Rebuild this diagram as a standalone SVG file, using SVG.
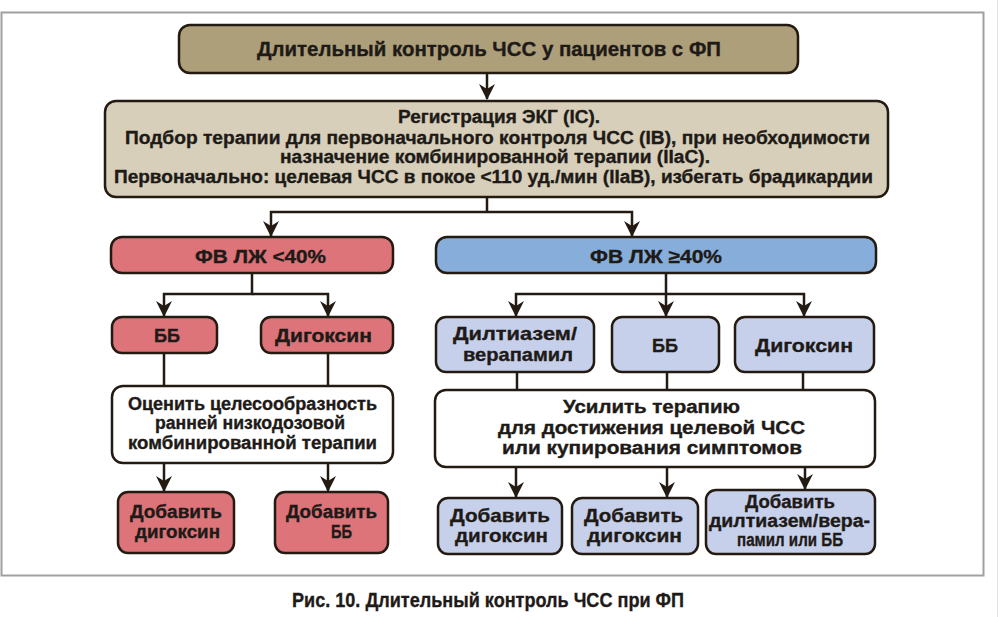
<svg xmlns="http://www.w3.org/2000/svg" width="1000" height="617" viewBox="0 0 1000 617">
<defs>
<style>
.box{stroke:#231a12;stroke-width:2.5}
.t{font-family:"Liberation Sans",Arial,sans-serif;font-weight:bold;fill:#1e1a17;stroke:#1e1a17;stroke-width:0.35;font-size:18px}
.h{font-size:19px}
.ti{font-size:20px}
.cap{font-size:21px}
.c{fill:none;stroke:#231a12;stroke-width:2.5}
.tan{fill:#ae9f7b}
.beige{fill:#d7cfb9}
.red{fill:#dc7479}
.blue{fill:#87aedb}
.lblue{fill:#c7d0ea}
.white{fill:#ffffff}
</style>
<marker id="ah" viewBox="0 0 16 16" refX="15" refY="8" markerWidth="16" markerHeight="16" markerUnits="userSpaceOnUse" orient="auto">
<path d="M0,0 L16,8 L0,16 L5,8 z" fill="#231a12"/>
</marker>
</defs>
<rect x="0" y="0" width="1000" height="617" fill="#ffffff"/>
<rect x="1.5" y="12.5" width="982" height="563" fill="none" stroke="#a0a0a0" stroke-width="2"/>
<line x1="997.5" y1="0" x2="997.5" y2="617" stroke="#e2e2e2" stroke-width="1"/>

<g id="connectors">
<path class="c" d="M487,73 V99" marker-end="url(#ah)"/>
<path class="c" d="M487,197 V212"/>
<path class="c" d="M487,212 H271 V236" marker-end="url(#ah)"/>
<path class="c" d="M487,212 H632 V236" marker-end="url(#ah)"/>
<path class="c" d="M252,273 V294 H164 V316" marker-end="url(#ah)"/>
<path class="c" d="M252,294 H328 V316" marker-end="url(#ah)"/>
<path class="c" d="M164,353 V386"/>
<path class="c" d="M328,353 V386"/>
<path class="c" d="M164,463 V491" marker-end="url(#ah)"/>
<path class="c" d="M328,463 V491" marker-end="url(#ah)"/>
<path class="c" d="M666,273 V294 H516 V316" marker-end="url(#ah)"/>
<path class="c" d="M666,294 V316" marker-end="url(#ah)"/>
<path class="c" d="M666,294 H804 V316" marker-end="url(#ah)"/>
<path class="c" d="M517,372 V390"/>
<path class="c" d="M667,372 V390"/>
<path class="c" d="M803,372 V390"/>
<path class="c" d="M516,467 V497" marker-end="url(#ah)"/>
<path class="c" d="M667,467 V497" marker-end="url(#ah)"/>
<path class="c" d="M805,467 V489" marker-end="url(#ah)"/>
</g>

<g id="title">
<rect class="box tan" x="179" y="25" width="619" height="48" rx="11"/>
<text class="t ti" x="257" y="56" textLength="464" lengthAdjust="spacingAndGlyphs">Длительный контроль ЧСС у пациентов с ФП</text>
</g>

<g id="ecg">
<rect class="box beige" x="105" y="101" width="783" height="96" rx="11"/>
<text class="t" x="398" y="123" textLength="202" lengthAdjust="spacingAndGlyphs">Регистрация ЭКГ (IC).</text>
<text class="t" x="125" y="144" textLength="745" lengthAdjust="spacingAndGlyphs">Подбор терапии для первоначального контроля ЧСС (IB), при необходимости</text>
<text class="t" x="280" y="163" textLength="430" lengthAdjust="spacingAndGlyphs">назначение комбинированной терапии (IIaC).</text>
<text class="t" x="114" y="183" textLength="759" lengthAdjust="spacingAndGlyphs">Первоначально: целевая ЧСС в покое &lt;110 уд./мин (IIaB), избегать брадикардии</text>
</g>

<g id="lvef-low">
<rect class="box red" x="111" y="237" width="282" height="36" rx="11"/>
<text class="t h" x="195" y="263" textLength="131" lengthAdjust="spacingAndGlyphs">ФВ ЛЖ &lt;40%</text>
</g>

<g id="lvef-high">
<rect class="box blue" x="436" y="237" width="440" height="36" rx="11"/>
<text class="t h" x="590" y="263" textLength="132" lengthAdjust="spacingAndGlyphs">ФВ ЛЖ ≥40%</text>
</g>

<g id="bb-left">
<rect class="box red" x="112" y="317" width="105" height="36" rx="10"/>
<text class="t h" x="154" y="342" textLength="26" lengthAdjust="spacingAndGlyphs">ББ</text>
</g>

<g id="dig-left">
<rect class="box red" x="261" y="317" width="132" height="36" rx="10"/>
<text class="t h" x="275" y="342" textLength="97" lengthAdjust="spacingAndGlyphs">Дигоксин</text>
</g>

<g id="dilt">
<rect class="box lblue" x="436" y="317" width="158" height="55" rx="10"/>
<text class="t h" x="453" y="340" textLength="124" lengthAdjust="spacingAndGlyphs">Дилтиазем/</text>
<text class="t h" x="463" y="361" textLength="110" lengthAdjust="spacingAndGlyphs">верапамил</text>
</g>

<g id="bb-right">
<rect class="box lblue" x="612" y="317" width="107" height="55" rx="10"/>
<text class="t h" x="652" y="352" textLength="26" lengthAdjust="spacingAndGlyphs">ББ</text>
</g>

<g id="dig-right">
<rect class="box lblue" x="735" y="317" width="139" height="55" rx="10"/>
<text class="t h" x="755" y="352" textLength="98" lengthAdjust="spacingAndGlyphs">Дигоксин</text>
</g>

<g id="assess">
<rect class="box white" x="112" y="386" width="281" height="77" rx="11"/>
<text class="t" x="128" y="410" textLength="249" lengthAdjust="spacingAndGlyphs">Оценить целесообразность</text>
<text class="t" x="155" y="429" textLength="190" lengthAdjust="spacingAndGlyphs">ранней низкодозовой</text>
<text class="t" x="128" y="449" textLength="249" lengthAdjust="spacingAndGlyphs">комбинированной терапии</text>
</g>

<g id="intensify">
<rect class="box white" x="435" y="390" width="440" height="77" rx="11"/>
<text class="t" x="563" y="413" textLength="177" lengthAdjust="spacingAndGlyphs">Усилить терапию</text>
<text class="t" x="498" y="434" textLength="307" lengthAdjust="spacingAndGlyphs">для достижения целевой ЧСС</text>
<text class="t" x="502" y="454" textLength="300" lengthAdjust="spacingAndGlyphs">или купирования симптомов</text>
</g>

<g id="add-dig-left">
<rect class="box red" x="118" y="492" width="116" height="61" rx="10"/>
<text class="t" x="130" y="518" textLength="92" lengthAdjust="spacingAndGlyphs">Добавить</text>
<text class="t" x="135" y="538" textLength="85" lengthAdjust="spacingAndGlyphs">дигоксин</text>
</g>

<g id="add-bb-left">
<rect class="box red" x="275" y="492" width="113" height="61" rx="10"/>
<text class="t" x="286" y="518" textLength="91" lengthAdjust="spacingAndGlyphs">Добавить</text>
<text class="t" x="331" y="538" textLength="21" lengthAdjust="spacingAndGlyphs">ББ</text>
</g>

<g id="add-dig-right1">
<rect class="box lblue" x="438" y="498" width="124" height="56" rx="10"/>
<text class="t h" x="450" y="522" textLength="100" lengthAdjust="spacingAndGlyphs">Добавить</text>
<text class="t h" x="455" y="542" textLength="93" lengthAdjust="spacingAndGlyphs">дигоксин</text>
</g>

<g id="add-dig-right2">
<rect class="box lblue" x="572" y="498" width="126" height="56" rx="10"/>
<text class="t h" x="584" y="522" textLength="99" lengthAdjust="spacingAndGlyphs">Добавить</text>
<text class="t h" x="587" y="542" textLength="95" lengthAdjust="spacingAndGlyphs">дигоксин</text>
</g>

<g id="add-dilt-bb">
<rect class="box lblue" x="706" y="490" width="169" height="64" rx="10"/>
<text class="t" x="745" y="508" textLength="90" lengthAdjust="spacingAndGlyphs">Добавить</text>
<text class="t" x="709" y="527" textLength="161" lengthAdjust="spacingAndGlyphs">дилтиазем/вера-</text>
<text class="t" x="737" y="546" textLength="106" lengthAdjust="spacingAndGlyphs">памил или ББ</text>
</g>

<g id="caption">
<text class="t cap" x="292" y="607" textLength="392" lengthAdjust="spacingAndGlyphs">Рис. 10. Длительный контроль ЧСС при ФП</text>
</g>
</svg>
